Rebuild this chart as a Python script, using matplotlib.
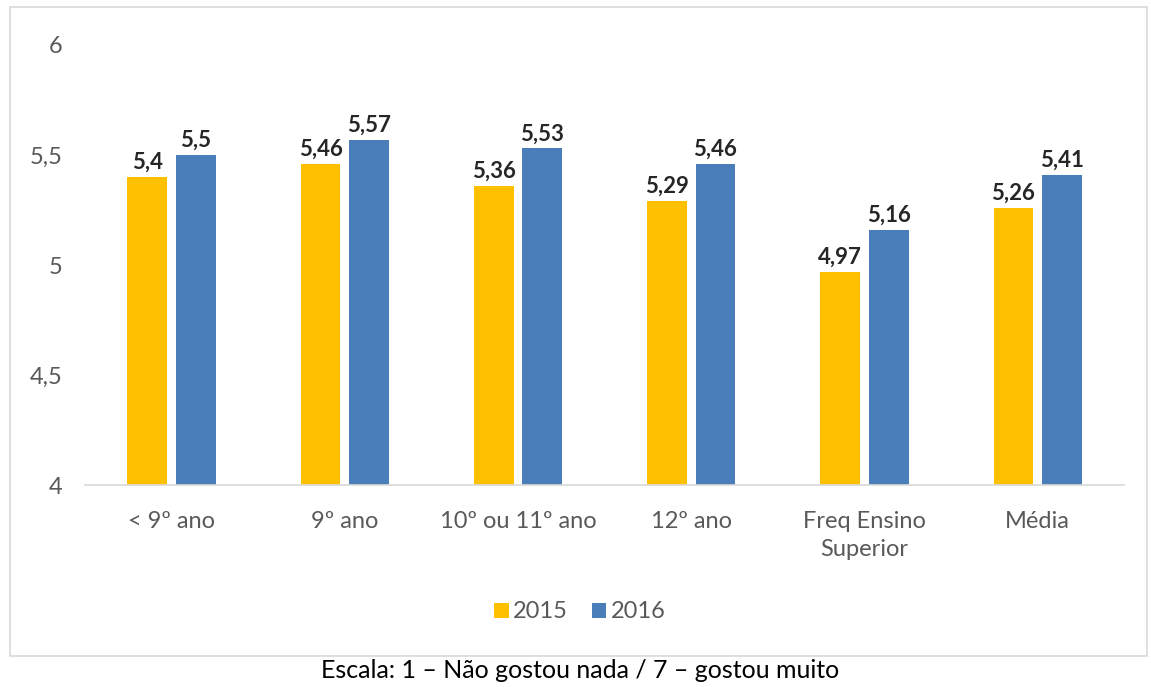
#!/usr/bin/env python

import matplotlib
matplotlib.use('Agg')
import matplotlib.pyplot as plt
from matplotlib.patches import Rectangle
import numpy as np

CATEGORIES = ['< 9º ano', '9º ano', '10º ou 11º ano', '12º ano',
              'Freq Ensino\nSuperior', 'Média']
VALS_2015 = [5.40, 5.46, 5.36, 5.29, 4.97, 5.26]
VALS_2016 = [5.50, 5.57, 5.53, 5.46, 5.16, 5.41]
YEARS = ['2015', '2016']
Y_TICKS = [4, 4.5, 5, 5.5, 6]
CAPTION = 'Escala: 1 – Não gostou nada / 7 – gostou muito'

YELLOW = '#FFC000'
BLUE = '#4A7EBB'
GREY = '#595959'


def fmt(v):
    return ('%g' % v).replace('.', ',')


def main():
    plt.rcParams['font.family'] = ['Lato', 'DejaVu Sans']
    fig = plt.figure(figsize=(11.51, 6.87), dpi=100)
    ax = fig.add_axes([0.0738, 0.294, 0.903, 0.6405])

    x = np.arange(len(CATEGORIES))
    w = 0.23
    off = 0.14
    b1 = ax.bar(x - off, VALS_2015, w, color=YELLOW, label=YEARS[0])
    b2 = ax.bar(x + off, VALS_2016, w, color=BLUE, label=YEARS[1])

    for bars, vals in ((b1, VALS_2015), (b2, VALS_2016)):
        for rect, v in zip(bars, vals):
            ax.annotate(fmt(v), (rect.get_x() + rect.get_width() / 2, v),
                        xytext=(0, 3), textcoords='offset points',
                        ha='center', va='bottom', fontsize=16,
                        fontweight='bold', color='#262626')

    ax.set_ylim(4, 6)
    ax.set_xlim(-0.5, len(CATEGORIES) - 0.5)
    ax.set_yticks(Y_TICKS)
    ax.set_yticklabels([fmt(t) for t in Y_TICKS])
    ax.set_xticks(x)
    ax.set_xticklabels(CATEGORIES, linespacing=1.4)
    ax.tick_params(axis='both', length=0, labelsize=17, colors=GREY)
    ax.tick_params(axis='y', pad=16)
    ax.tick_params(axis='x', pad=19)
    for side in ('top', 'right', 'left'):
        ax.spines[side].set_visible(False)
    ax.spines['bottom'].set_color('#D9D9D9')
    ax.spines['bottom'].set_linewidth(1.2)

    leg = ax.legend(loc='center', bbox_to_anchor=(580 / 1151, 1 - 612 / 687),
                    bbox_transform=fig.transFigure, ncol=2, frameon=False,
                    fontsize=17, handlelength=0.6, handleheight=0.6,
                    handletextpad=0.2, columnspacing=1.0)
    for t in leg.get_texts():
        t.set_color(GREY)

    # chart border
    fig.patches.append(Rectangle((10 / 1151, 1 - 656 / 687),
                                 1137 / 1151, 649 / 687,
                                 transform=fig.transFigure, fill=False,
                                 edgecolor='#D9D9D9', linewidth=1.2))

    fig.text(580 / 1151, 1 - 670 / 687, CAPTION, ha='center', va='center',
             fontsize=18, color='black')

    fig.savefig('out.png', dpi=100)


if __name__ == '__main__':
    main()
